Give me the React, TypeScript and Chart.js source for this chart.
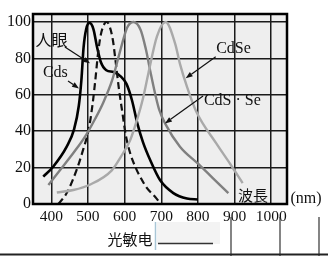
import { useEffect, useRef } from "react";
import { Chart, registerables } from "chart.js";

Chart.register(...registerables);

// ---- data (wavelength nm, relative sensitivity %) ----
const xTicks = [400, 500, 600, 700, 800, 900, 1000];
const yTicks = [0, 20, 40, 60, 80, 100];

const cdsNm = [378, 405, 442, 462, 475, 482, 488, 495, 504, 515, 525, 535, 550, 570, 590, 605, 620, 635, 650, 670, 697, 733, 770, 800];
const cdsVal = [15, 20.5, 31.5, 41, 54, 68, 86, 96, 99.5, 96, 86, 78, 73.5, 72.5, 70, 66, 57, 44, 34, 24, 13, 6, 3, 2.5];

const eyeNm = [419, 442, 469, 487, 502, 512, 520, 527, 535, 545, 551, 560, 568, 575, 584, 594, 603, 615, 630, 645, 660, 683, 697];
const eyeVal = [0, 6, 18.7, 30, 41, 54, 68, 82, 93, 99, 100, 97, 90, 79, 64, 50, 38, 28, 20, 14, 9, 4, 0.5];

const cdsseNm = [392, 424, 460, 492, 520, 540, 566, 589, 607, 624, 644, 658, 671, 685, 694, 711, 751, 801, 842, 883];
const cdsseVal = [10.5, 18.7, 28, 37, 47, 55, 68, 85, 97, 100, 95.5, 85, 72, 59, 52, 44, 31.5, 22, 14, 6];

const cdseNm = [415, 460, 505, 565, 590, 615, 635, 650, 665, 688, 712, 738, 751, 770, 795, 851, 888, 922];
const cdseVal = [6.3, 7.7, 10.6, 18.5, 26, 35, 47, 58, 72, 92, 100, 88, 77, 64.5, 51, 33, 22, 11.5];

// annotations in data coordinates
const labels = [
  { text: "人眼", x: 400.5, y: 90, font: "16px 'Noto Sans CJK JP', sans-serif" },
  { text: "Cds", x: 411, y: 72.3, font: "16px 'Liberation Serif', serif" },
  { text: "CdSe", x: 897, y: 85.2, font: "16px 'Liberation Serif', serif" },
  { text: "CdS · Se", x: 894, y: 56.6, font: "16px 'Liberation Serif', serif" },
  { text: "波長", x: 950, y: 5, font: "15px 'Noto Sans CJK JP', sans-serif" },
  { text: "(nm)", x: 1095, y: 2.7, font: "16px 'Liberation Serif', serif" },
];
const arrows = [
  { x1: 437, y1: 86.3, x2: 505.5, y2: 77.3 },
  { x1: 445.5, y1: 67.6, x2: 475.5, y2: 63.5 },
  { x1: 848.5, y1: 80.9, x2: 766.6, y2: 69.1 },
  { x1: 814, y1: 59.3, x2: 710, y2: 44.3 },
];

const pts = (xs: number[], ys: number[]) => xs.map((x, i) => ({ x, y: ys[i] }));

const deco = {
  id: "deco",
  beforeDraw(chart: any) {
    const { ctx, chartArea: a } = chart;
    ctx.save();
    ctx.fillStyle = "#ffffff";
    ctx.fillRect(0, 0, chart.width, chart.height);
    ctx.fillStyle = "#eeeeee";
    ctx.fillRect(a.left, a.top, a.right - a.left, a.bottom - a.top);
    ctx.restore();
  },
  afterDraw(chart: any) {
    const { ctx, chartArea: a, scales } = chart;
    const sx = scales.x, sy = scales.y;
    ctx.save();
    ctx.strokeStyle = "#000";
    ctx.lineWidth = 2.5;
    ctx.strokeRect(a.left, a.top, a.right - a.left, a.bottom - a.top);

    ctx.fillStyle = "#111";
    ctx.textAlign = "center";
    ctx.textBaseline = "middle";
    for (const l of labels) {
      ctx.font = l.font;
      ctx.fillText(l.text, sx.getPixelForValue(l.x), sy.getPixelForValue(l.y));
    }
    ctx.lineWidth = 1.2;
    ctx.strokeStyle = "#111";
    for (const ar of arrows) {
      const x1 = sx.getPixelForValue(ar.x1), y1 = sy.getPixelForValue(ar.y1);
      const x2 = sx.getPixelForValue(ar.x2), y2 = sy.getPixelForValue(ar.y2);
      const ang = Math.atan2(y2 - y1, x2 - x1);
      const hl = 7, hw = 2.6;
      const bx = x2 - hl * Math.cos(ang), by = y2 - hl * Math.sin(ang);
      ctx.beginPath();
      ctx.moveTo(x1, y1);
      ctx.lineTo(bx, by);
      ctx.stroke();
      ctx.beginPath();
      ctx.moveTo(x2, y2);
      ctx.lineTo(bx + hw * Math.sin(ang), by - hw * Math.cos(ang));
      ctx.lineTo(bx - hw * Math.sin(ang), by + hw * Math.cos(ang));
      ctx.closePath();
      ctx.fill();
    }

    // bottom screenshot residue
    ctx.fillStyle = "#f3f3f3";
    ctx.fillRect(157, 222, 63, 22);
    ctx.strokeStyle = "#a9c6d6";
    ctx.lineWidth = 1.5;
    ctx.beginPath();
    ctx.moveTo(155.5, 222);
    ctx.lineTo(155.5, 250);
    ctx.stroke();
    ctx.strokeStyle = "#333";
    ctx.lineWidth = 1.5;
    ctx.beginPath();
    ctx.moveTo(158, 243.5);
    ctx.lineTo(213, 243.5);
    ctx.stroke();
    ctx.lineWidth = 1.2;
    for (const vx of [231, 280, 319]) {
      ctx.beginPath();
      ctx.moveTo(vx, 217);
      ctx.lineTo(vx, 256);
      ctx.stroke();
    }
    ctx.strokeStyle = "#222";
    ctx.lineWidth = 2;
    ctx.beginPath();
    ctx.moveTo(0, 254.5);
    ctx.lineTo(328, 254.5);
    ctx.stroke();
    ctx.fillStyle = "#111";
    ctx.font = "15px 'Noto Sans CJK SC', sans-serif";
    ctx.textAlign = "center";
    ctx.fillText("光敏电", 130, 239);
    ctx.restore();
  },
};

export default function App() {
  const ref = useRef<HTMLCanvasElement>(null);
  useEffect(() => {
    document.body.style.margin = "0";
    const canvas = ref.current!;
    const serif = "'Liberation Serif', 'DejaVu Serif', serif";
    const chart = new Chart(canvas, {
      type: "line",
      data: {
        datasets: [
          { label: "CdSe", data: pts(cdseNm, cdseVal), borderColor: "#a9a9a9", borderWidth: 2.4 },
          { label: "CdS·Se", data: pts(cdsseNm, cdsseVal), borderColor: "#808080", borderWidth: 2.4 },
          { label: "人眼", data: pts(eyeNm, eyeVal), borderColor: "#111", borderWidth: 2.2, borderDash: [7, 4] },
          { label: "Cds", data: pts(cdsNm, cdsVal), borderColor: "#000", borderWidth: 2.6 },
        ].map((d) => ({ ...d, pointRadius: 0, fill: false, cubicInterpolationMode: "monotone" as const })),
      },
      options: {
        animation: false,
        responsive: false,
        devicePixelRatio: 1,
        layout: { padding: { top: 14, right: 41, left: 0, bottom: 0 } },
        plugins: { legend: { display: false }, tooltip: { enabled: false } },
        scales: {
          x: {
            type: "linear",
            min: 350,
            max: 1043,
            afterBuildTicks: (s: any) => { s.ticks = xTicks.map((v) => ({ value: v })); },
            afterFit: (s: any) => { s.height = 52; },
            grid: { color: "#1a1a1a", lineWidth: 1.5, drawTicks: false },
            border: { display: false },
            ticks: { color: "#111", font: { family: serif, size: 15.5 }, padding: 4, maxRotation: 0, callback: (v: any) => String(v) },
          },
          y: {
            type: "linear",
            min: 0,
            max: 104.4,
            afterBuildTicks: (s: any) => { s.ticks = yTicks.map((v) => ({ value: v })); },
            afterFit: (s: any) => { s.width = 33; },
            grid: { color: "#1a1a1a", lineWidth: 1.5, drawTicks: false },
            border: { display: false },
            ticks: { color: "#111", font: { family: serif, size: 16 }, padding: 2, callback: (v: any) => String(v) },
          },
        },
      },
      plugins: [deco],
    });
    return () => chart.destroy();
  }, []);
  return (
    <div style={{ width: 328, height: 256, background: "#fff" }}>
      <canvas ref={ref} width={328} height={256} style={{ display: "block" }} />
    </div>
  );
}
